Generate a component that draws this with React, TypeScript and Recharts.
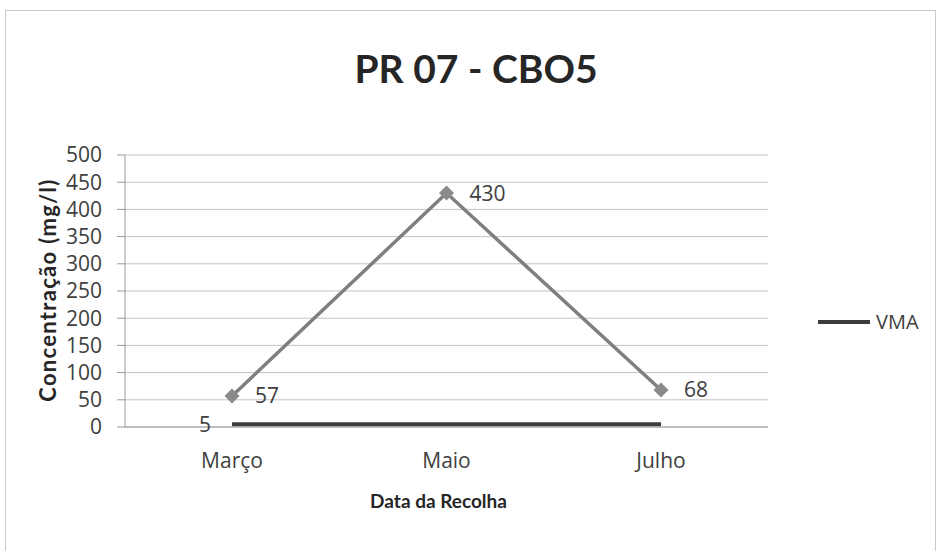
import React from 'react';
import { LineChart, Line, XAxis, YAxis, CartesianGrid, Legend, LabelList, Label } from 'recharts';

const categories = ['Março', 'Maio', 'Julho'];
const cbo5Values = [57, 430, 68];
const vmaValues = [5, 5, 5];
const vmaLabels = ['5', null, null];
const yTicks = [0, 50, 100, 150, 200, 250, 300, 350, 400, 450, 500];

const chartTitle = 'PR 07 - CBO5';
const yTitle = 'Concentração (mg/l)';
const xTitle = 'Data da Recolha';

const data = categories.map((month, i) => ({
  month,
  cbo5: cbo5Values[i],
  vma: vmaValues[i],
  vmaLabel: vmaLabels[i],
}));

const FONT = '"Open Sans", Lato, sans-serif';
const BOLD_FONT = 'Lato, "Open Sans", sans-serif';
const TEXT = '#404040';

const Diamond = (props: any) => {
  const { cx, cy, index } = props;
  if (cx == null || cy == null) return null;
  const r = 7.5;
  return (
    <path
      key={`d-${index}`}
      d={`M${cx},${cy - r}L${cx + r},${cy}L${cx},${cy + r}L${cx - r},${cy}Z`}
      fill="#8a8a8a"
    />
  );
};

const LegendContent = (props: any) => {
  const items = (props.payload || []).filter((p: any) => p.type !== 'none');
  return (
    <div style={{ fontFamily: FONT }}>
      {items.map((p: any) => (
        <div key={p.value} style={{ display: 'flex', alignItems: 'center', fontSize: 20, color: TEXT }}>
          <svg width={54} height={8} style={{ display: 'block' }}>
            <line x1={0} y1={4} x2={52} y2={4} stroke={p.color} strokeWidth={4} />
          </svg>
          <span style={{ marginLeft: 4 }}>{p.value}</span>
        </div>
      ))}
    </div>
  );
};

export default function App() {
  return (
    <div style={{ position: 'absolute', left: 0, top: 0, width: 937, height: 551, background: '#fff', overflow: 'hidden' }}>
      <div
        style={{
          position: 'absolute',
          left: 5,
          top: 10,
          width: 929,
          height: 560,
          border: '1px solid #c8c8c8',
        }}
      />
      <div
        style={{
          position: 'absolute',
          left: 0,
          top: 44,
          width: 952,
          textAlign: 'center',
          fontFamily: BOLD_FONT,
          fontWeight: 700,
          fontSize: 39,
          color: '#262626',
          lineHeight: '48px',
        }}
      >
        {chartTitle}
      </div>
      <div style={{ position: 'absolute', left: 0, top: 0 }}>
        <LineChart
          width={937}
          height={551}
          data={data}
          margin={{ top: 155, right: 169, left: 65, bottom: 34 }}
        >
          <CartesianGrid vertical={false} stroke="#c4c4c4" strokeWidth={1} />
          <XAxis
            dataKey="month"
            height={90}
            padding={{ left: 107, right: 107 }}
            tickLine={false}
            tickSize={0}
            tickMargin={26}
            axisLine={{ stroke: '#9a9a9a' }}
            tick={{ fontFamily: FONT, fontSize: 21, fill: TEXT }}
            interval={0}
          >
            <Label
              value={xTitle}
              position="insideBottom"
              offset={9}
              dx={-8}
              style={{ fontFamily: BOLD_FONT, fontSize: 19, fontWeight: 700, fill: '#262626' }}
            />
          </XAxis>
          <YAxis
            width={60}
            domain={[0, 500]}
            ticks={yTicks}
            interval={0}
            tickSize={8}
            tickMargin={15}
            tickLine={{ stroke: '#9a9a9a' }}
            axisLine={{ stroke: '#9a9a9a' }}
            tick={{ fontFamily: FONT, fontSize: 21, fill: TEXT }}
          >
            <Label
              value={yTitle}
              angle={-90}
              position="insideLeft"
              offset={-17}
              dy={-1}
              style={{ fontFamily: BOLD_FONT, fontSize: 22, fontWeight: 700, fill: '#262626', textAnchor: 'middle', letterSpacing: 1.3 }}
            />
          </YAxis>
          <Legend
            layout="horizontal"
            align="center"
            verticalAlign="middle"
            wrapperStyle={{ left: 818, top: 308, width: 'auto', height: 'auto' }}
            content={LegendContent}
          />
          <Line
            type="linear"
            dataKey="vma"
            name="VMA"
            stroke="#3c3c3c"
            strokeWidth={4}
            dot={false}
            activeDot={false}
            legendType="plainline"
            isAnimationActive={false}
          >
            <LabelList
              dataKey="vmaLabel"
              position="left"
              offset={21}
              style={{ fontFamily: FONT, fontSize: 21, fill: TEXT }}
            />
          </Line>
          <Line
            type="linear"
            dataKey="cbo5"
            name="CBO5"
            stroke="#7f7f7f"
            strokeWidth={3.5}
            dot={Diamond}
            activeDot={false}
            legendType="none"
            isAnimationActive={false}
          >
            <LabelList
              dataKey="cbo5"
              position="right"
              offset={23}
              style={{ fontFamily: FONT, fontSize: 21, fill: TEXT }}
            />
          </Line>
        </LineChart>
      </div>
    </div>
  );
}
